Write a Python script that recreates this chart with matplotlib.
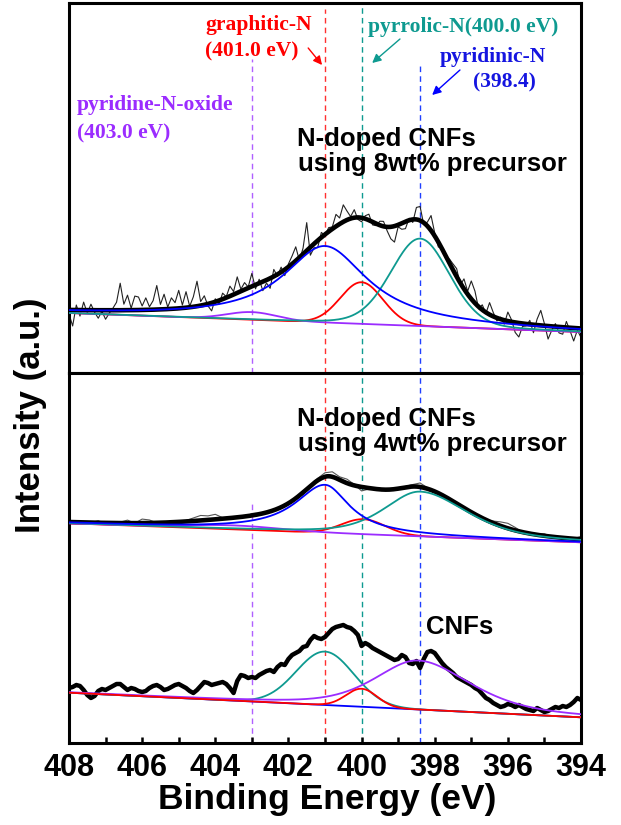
import numpy as np
import matplotlib
matplotlib.use('Agg')
import matplotlib.pyplot as plt

# ---------------- data ----------------
x_major_ticks = [408, 406, 404, 402, 400, 398, 396, 394]
x_minor_ticks = [407, 405, 403, 401, 399, 397, 395]

# reference binding energies (purple, red, teal, blue dashed lines)
ref_energy = [403.0, 401.0, 400.0, 398.4]
ref_top_extent = [314, 364, 366, 308]      # upper end of dashes in top panel
ref_bottom_extent = [241, 370, 370, 370]   # upper end of dashes in bottom panel

# component order: purple, blue, red, teal
# --- N-doped CNFs (8 wt%) ---
p8_center = [403.0, 401.0, 400.0, 398.4]
p8_height = [7.7, 76.5, 41.6, 87.4]
p8_fwhm_hi = [1.6, 2.8, 1.37, 1.9]    # toward higher binding energy
p8_fwhm_lo = [1.6, 2.8, 1.37, 1.9]    # toward lower binding energy
p8_lorentz = [0.0, 1.0, 0.0, 0.15]
p8_background = [60.0, 41.0]           # at 408 eV and 394 eV

# --- N-doped CNFs (4 wt%) ---
p4_center = [403.5, 401.0, 399.95, 398.4]
p4_height = [4.0, 48.0, 15.0, 44.7]
p4_fwhm_hi = [3.0, 2.0, 1.4, 2.3]
p4_fwhm_lo = [3.0, 1.6, 1.4, 3.0]
p4_lorentz = [0.0, 1.0, 0.0, 0.5]
p4_background = [219.7, 200.7]

# --- CNFs ---
cnf_center = [398.45, 400.0, 400.0, 401.0]
cnf_height = [49.0, 0.0, 18.0, 53.4]
cnf_fwhm_hi = [2.8, 1.0, 1.0, 1.85]
cnf_fwhm_lo = [3.3, 1.0, 1.0, 1.85]
cnf_lorentz = [0.5, 0.0, 0.0, 0.0]
cnf_background = [50.3, 25.7]

# raw spectra (0.1 eV steps from 408 to 394), residual to the fit envelope
p8_residual = [-4, -16, 5, -6, 8, -3, 6, -2, -8, -1, -9, -3, 2, 8, 27, 6, 15, 2, 14, 13,
               4, 12, 3, 9, 24, 5, 15, 2, 11, 6, 18, 3, 16, 1, 10, 25, 4, 9, -2, -8,
               3, -4, 6, 1, 10, 3, 16, 2, 7, 1, 13, -4, 4, -9, -3, -10, 7, -2, 5, -6,
               3, 8, 14, -3, 6, 28, -8, -4, -7, 5, -1, 4, 2, 12, 6, 17, 9, 2, 8, -2,
               -4, 3, 6, -3, -2, 4, 5, -4, -12, -16, -2, -6, -7, 2, -3, 12, 14, -2, 4, 15,
               3, -5, 2, -3, 4, 6, 8, -2, 10, 3, 18, 12, -2, 5, -1, 12, 4, -3, 2, -4,
               9, 2, -10, -14, -3, -2, 4, -8, 6, 15, 2, -13, -4, 3, -6, -7, 6, -3, -13, -2,
               -9]
# 0.2 eV steps from 408 to 394
p4_residual = [0, -1, 1, 0, 2, -1, 0, 1, 3, 0, 4, 3, 0, -1, 1, 0, 1, 3, 5, 4,
               5, 1, 0, 1, -1, 2, 1, 0, 1, -1, 1, 0, -2, 1, 2, 4, 5, 3, 4, 1,
               -4, -1, 0, 1, 0, -1, 1, 2, 4, 1, 0, 1, -1, 0, 1, 0, 1, -1, 2, 4,
               5, 3, 0, -1, 1, 2, 0, -1, 1, 0, 3]
# CNFs raw intensity, 0.1 eV steps from 408 to 394
cnf_raw = [55, 56, 58, 57, 53, 48, 45, 47, 52, 54, 53, 55, 57, 59, 59, 56, 53, 55, 54, 52,
           51, 52, 55, 57, 58, 56, 53, 54, 56, 58, 59, 57, 55, 52, 50, 53, 57, 61, 60, 58,
           59, 60, 61, 59, 55, 50, 62, 68, 67, 65, 66, 65, 68, 70, 72, 73, 71, 76, 79, 78,
           84, 88, 90, 92, 96, 97, 103, 107, 105, 104, 106, 110, 114, 116, 117, 118, 116, 115, 112, 108,
           97, 100, 98, 95, 93, 91, 89, 87, 85, 83, 84, 88, 86, 80, 79, 82, 75, 84, 91, 92,
           90, 85, 80, 76, 73, 70, 66, 64, 62, 60, 58, 55, 53, 49, 45, 43, 40, 38, 36, 37,
           39, 38, 36, 38, 36, 34, 33, 32, 35, 33, 31, 32, 34, 36, 35, 37, 36, 38, 41, 45,
           43]

# ---------------- style ----------------
plt.rcParams['font.family'] = ['Liberation Sans', 'DejaVu Sans']
C_PURPLE = '#9b2cff'
C_BLUE = '#0000ff'
C_RED = '#ff0000'
C_TEAL = '#0e9a90'
comp_colors = [C_PURPLE, C_BLUE, C_RED, C_TEAL]
cnf_colors = [C_PURPLE, C_BLUE, C_RED, C_TEAL]
dash_colors = ['#b060ff', '#ff3030', '#0e9a90', '#2040ff']

W, H = 621, 825
fig = plt.figure(figsize=(W / 100, H / 100), dpi=100)
ax_top = fig.add_axes([69 / W, 1 - 373 / H, 512 / W, 370 / H])
ax_bot = fig.add_axes([69 / W, 1 - 743 / H, 512 / W, 370 / H])

E = np.linspace(408, 394, 1401)


def component(e, c, h, whi, wlo, eta):
    w = np.where(e >= c, whi, wlo)
    d = (e - c) / w
    g = np.exp(-4 * np.log(2) * d ** 2)
    lo = 1.0 / (1.0 + 4 * d ** 2)
    return h * (eta * lo + (1 - eta) * g)


def background(e, bg):
    return np.interp(e, [394, 408], [bg[1], bg[0]])


def fit_curves(e, centers, heights, whi, wlo, eta, bg):
    base = background(e, bg)
    comps = [component(e, c, h, a, b, t) for c, h, a, b, t in zip(centers, heights, whi, wlo, eta)]
    env = base + np.sum(comps, axis=0)
    return base, comps, env


for ax in (ax_top, ax_bot):
    ax.set_xlim(408, 394)
    ax.set_ylim(0, 370)
    for s in ax.spines.values():
        s.set_linewidth(2.2)

# ---- top panel: 8 wt% ----
base, comps, env = fit_curves(E, p8_center, p8_height, p8_fwhm_hi, p8_fwhm_lo, p8_lorentz, p8_background)
E_raw = np.linspace(408, 394, len(p8_residual))
_, _, env_raw = fit_curves(E_raw, p8_center, p8_height, p8_fwhm_hi, p8_fwhm_lo, p8_lorentz, p8_background)
ax_top.plot(E_raw, env_raw + np.array(p8_residual), color='#222222', lw=0.8, zorder=2)
ax_top.plot(E, env, color='black', lw=3.3, zorder=3)
for i in [2, 0, 3, 1]:
    ax_top.plot(E, base + comps[i], color=comp_colors[i], lw=1.3, zorder=4)

for e0, c, ym in zip(ref_energy, dash_colors, ref_top_extent):
    ax_top.vlines(e0, 0, ym, colors=c, linestyles=(0, (4, 3)), lw=1.0, zorder=1)

# ---- bottom panel: 4 wt% ----
base, comps, env = fit_curves(E, p4_center, p4_height, p4_fwhm_hi, p4_fwhm_lo, p4_lorentz, p4_background)
E_raw4 = np.linspace(408, 394, len(p4_residual))
_, _, env_raw4 = fit_curves(E_raw4, p4_center, p4_height, p4_fwhm_hi, p4_fwhm_lo, p4_lorentz, p4_background)
ax_bot.plot(E_raw4, env_raw4 + np.array(p4_residual), color='#555555', lw=0.8, zorder=2)
ax_bot.plot(E, env, color='black', lw=3.3, zorder=3)
for i in [2, 0, 3, 1]:
    ax_bot.plot(E, base + comps[i], color=comp_colors[i], lw=1.3, zorder=4)

# ---- bottom panel: CNFs ----
base, comps, env = fit_curves(E, cnf_center, cnf_height, cnf_fwhm_hi, cnf_fwhm_lo, cnf_lorentz, cnf_background)
E_cnf = np.linspace(408, 394, len(cnf_raw))
ax_bot.plot(E_cnf, cnf_raw, color='black', lw=3.2, zorder=2)
for i in [1, 3, 0, 2]:
    ax_bot.plot(E, base + comps[i], color=cnf_colors[i], lw=1.3, zorder=4)

for e0, c, ym in zip(ref_energy, dash_colors, ref_bottom_extent):
    ax_bot.vlines(e0, 0, ym, colors=c, linestyles=(0, (4, 3)), lw=1.0, zorder=1)

# ---- ticks ----
ax_top.tick_params(which='both', bottom=False, top=False, left=False, right=False,
                   labelbottom=False, labelleft=False)
ax_bot.tick_params(which='both', top=False, left=False, right=False, labelleft=False)
ax_bot.set_xticks(x_major_ticks)
ax_bot.set_xticks(x_minor_ticks, minor=True)
ax_bot.tick_params(which='major', direction='in', length=4.5, width=1.8, pad=7,
                   labelsize=22)
ax_bot.tick_params(which='minor', direction='in', length=4.0, width=1.8)
for lab in ax_bot.get_xticklabels():
    lab.set_fontweight('bold')

# ---- annotations (top panel) ----
serif = dict(family=['Liberation Serif', 'DejaVu Serif'], fontweight='bold', fontsize=15.5)
ax_top.text(404.28, 348, 'graphitic-N', color=C_RED, va='center', ha='left', **serif)
ax_top.text(404.28, 322, '(401.0 eV)', color=C_RED, va='center', ha='left', **serif)
ax_top.text(399.82, 346, 'pyrrolic-N(400.0 eV)', color=C_TEAL, va='center', ha='left', **serif)
ax_top.text(397.86, 316, 'pyridinic-N', color='#1515e0', va='center', ha='left', **serif)
ax_top.text(396.95, 291, '(398.4)', color='#1515e0', va='center', ha='left', **serif)
ax_top.text(407.78, 268, 'pyridine-N-oxide', color=C_PURPLE, va='center', ha='left', **serif)
ax_top.text(407.78, 240, '(403.0 eV)', color=C_PURPLE, va='center', ha='left', **serif)

arrows = [((401.46, 325), (401.08, 308), C_RED),
          ((398.95, 334), (399.71, 310), C_TEAL),
          ((397.31, 303), (398.07, 278), C_BLUE)]
for (s, e, c) in arrows:
    ax_top.annotate('', xy=e, xytext=s,
                    arrowprops=dict(arrowstyle='-|>', color=c, lw=1.0, mutation_scale=13,
                                    shrinkA=0, shrinkB=0))

sans = dict(fontweight='bold', fontsize=18.5, color='black', ha='left', va='baseline')
ax_top.text(401.77, 227, 'N-doped CNFs', **sans)
ax_top.text(401.74, 202, 'using 8wt% precursor', **sans)
ax_bot.text(401.77, 317, 'N-doped CNFs', **sans)
ax_bot.text(401.74, 292, 'using 4wt% precursor', **sans)
ax_bot.text(398.24, 109, 'CNFs', **sans)

# ---- axis titles ----
fig.text(327 / W, 1 - 800 / H, 'Binding Energy (eV)', ha='center', va='center',
         fontsize=25.5, fontweight='bold')
fig.text(31 / W, 1 - 415 / H, 'Intensity (a.u.)', ha='center', va='center',
         rotation=90, fontsize=25, fontweight='bold')

fig.savefig('out.png', dpi=100)
